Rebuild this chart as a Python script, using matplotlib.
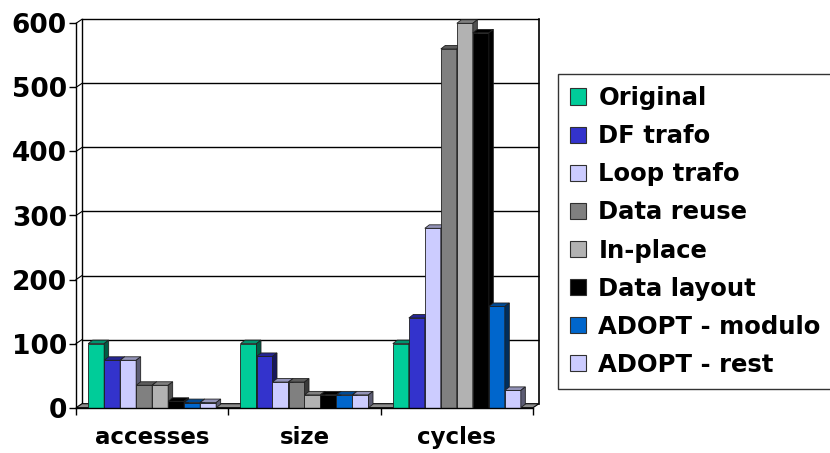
import matplotlib
matplotlib.use("Agg")
import matplotlib.pyplot as plt
from matplotlib.patches import Polygon, Patch
import matplotlib.colors as mcolors
import numpy as np

categories = ["accesses", "size", "cycles"]
series_names = ["Original", "DF trafo", "Loop trafo", "Data reuse",
                "In-place", "Data layout", "ADOPT - modulo", "ADOPT - rest"]
original = [100, 100, 100]
df_trafo = [74, 80, 140]
loop_trafo = [74, 40, 280]
data_reuse = [35, 40, 560]
in_place = [35, 20, 600]
data_layout = [10, 20, 585]
adopt_modulo = [8, 20, 158]
adopt_rest = [8, 20, 27]
series_values = [original, df_trafo, loop_trafo, data_reuse,
                 in_place, data_layout, adopt_modulo, adopt_rest]
series_colors = ["#00CC99", "#3333CC", "#CCCCFF", "#808080",
                 "#B2B2B2", "#000000", "#0066CC", "#CCCCFF"]
y_ticks = [0, 100, 200, 300, 400, 500, 600]

W, H, DPI = 8.30, 4.53, 100
fig = plt.figure(figsize=(W, H), dpi=DPI)
fig.patch.set_facecolor("white")

# axes frame in pixels (front plane of the 3D box)
ax_left, ax_right = 76, 533
ax_top, ax_bottom = 23.3, 407.7
ax = fig.add_axes([ax_left / (W * DPI), 1 - ax_bottom / (H * DPI),
                   (ax_right - ax_left) / (W * DPI), (ax_bottom - ax_top) / (H * DPI)])
ax.set_xlim(0, 3)
ax.set_ylim(0, 600)
ax.set_facecolor("none")

px_x = (ax_right - ax_left) / 3.0      # pixels per x unit
px_y = (ax_bottom - ax_top) / 600.0    # pixels per y unit

# depth offsets (pixels -> data units)
wall_dx, wall_dy = 6 / px_x, 4 / px_y
bar_dx, bar_dy = 4.5 / px_x, 3.5 / px_y

# back wall: gridlines, right and left edges, side wall diagonals
for yv in y_ticks[1:]:
    ax.plot([wall_dx, 3 + wall_dx], [yv + wall_dy, yv + wall_dy],
            color="black", lw=1.0, zorder=1, clip_on=False, solid_capstyle="butt")
    ax.plot([0, wall_dx], [yv, yv + wall_dy], color="black", lw=0.8,
            zorder=1, clip_on=False)
ax.plot([3 + wall_dx, 3 + wall_dx], [wall_dy, 600 + wall_dy], color="black",
        lw=1.2, zorder=1, clip_on=False)
ax.plot([wall_dx, wall_dx], [wall_dy, 600 + wall_dy], color="black",
        lw=1.0, zorder=1, clip_on=False)

# floor slab
floor = Polygon([[0, 0], [3, 0], [3 + wall_dx, wall_dy], [wall_dx, wall_dy]],
                closed=True, facecolor="#8C8C8C", edgecolor="black", lw=0.8,
                zorder=2, clip_on=False)
ax.add_patch(floor)

bar_w = 16 / px_x
x_base = np.arange(len(categories)) + 0.5
for j, (vals, col) in enumerate(zip(series_values, series_colors)):
    rgb = np.array(mcolors.to_rgb(col))
    top_c = rgb * 0.72
    side_c = rgb * 0.45
    lefts = x_base - 4 * bar_w + j * bar_w
    z = 3 + j
    ax.bar(lefts, vals, width=bar_w, align="edge", color=col,
           edgecolor="#202020", linewidth=0.6, zorder=z, clip_on=False)
    for xl, v in zip(lefts, vals):
        top = Polygon([[xl, v], [xl + bar_w, v], [xl + bar_w + bar_dx, v + bar_dy],
                       [xl + bar_dx, v + bar_dy]], closed=True, facecolor=top_c,
                      edgecolor="#202020", lw=0.6, zorder=z, clip_on=False)
        side = Polygon([[xl + bar_w, 0], [xl + bar_w + bar_dx, bar_dy],
                        [xl + bar_w + bar_dx, v + bar_dy], [xl + bar_w, v]],
                       closed=True, facecolor=side_c, edgecolor="#202020",
                       lw=0.6, zorder=z, clip_on=False)
        ax.add_patch(top)
        ax.add_patch(side)

# axes spines and ticks
for s in ["top", "right"]:
    ax.spines[s].set_visible(False)
for s in ["left", "bottom"]:
    ax.spines[s].set_linewidth(1.0)
    ax.spines[s].set_color("black")
    ax.spines[s].set_zorder(20)

ax.set_yticks(y_ticks)
ax.set_yticklabels([str(v) for v in y_ticks], fontsize=19, fontweight="bold")
ax.tick_params(axis="y", direction="out", length=5, width=1, pad=1.5)

ax.set_xticks(x_base)
ax.set_xticklabels(categories, fontsize=16.5, fontweight="bold")
ax.set_xticks([0, 1, 2, 3], minor=True)
ax.tick_params(axis="x", which="major", length=0, pad=13)
ax.tick_params(axis="x", which="minor", direction="out", length=5, width=1)

handles = [Patch(facecolor=c, edgecolor="#303030", linewidth=0.8) for c in series_colors]
leg = fig.legend(handles, series_names, loc="upper left",
                 bbox_to_anchor=(558 / (W * DPI), 1 - 74 / (H * DPI)),
                 prop={"weight": "bold", "size": 17.5}, frameon=True, fancybox=False,
                 handlelength=0.66, handleheight=0.66, handletextpad=0.5,
                 labelspacing=0.58, borderpad=0.5, borderaxespad=0)
leg.get_frame().set_edgecolor("black")
leg.get_frame().set_linewidth(1.0)

fig.savefig("out.png", dpi=DPI)
